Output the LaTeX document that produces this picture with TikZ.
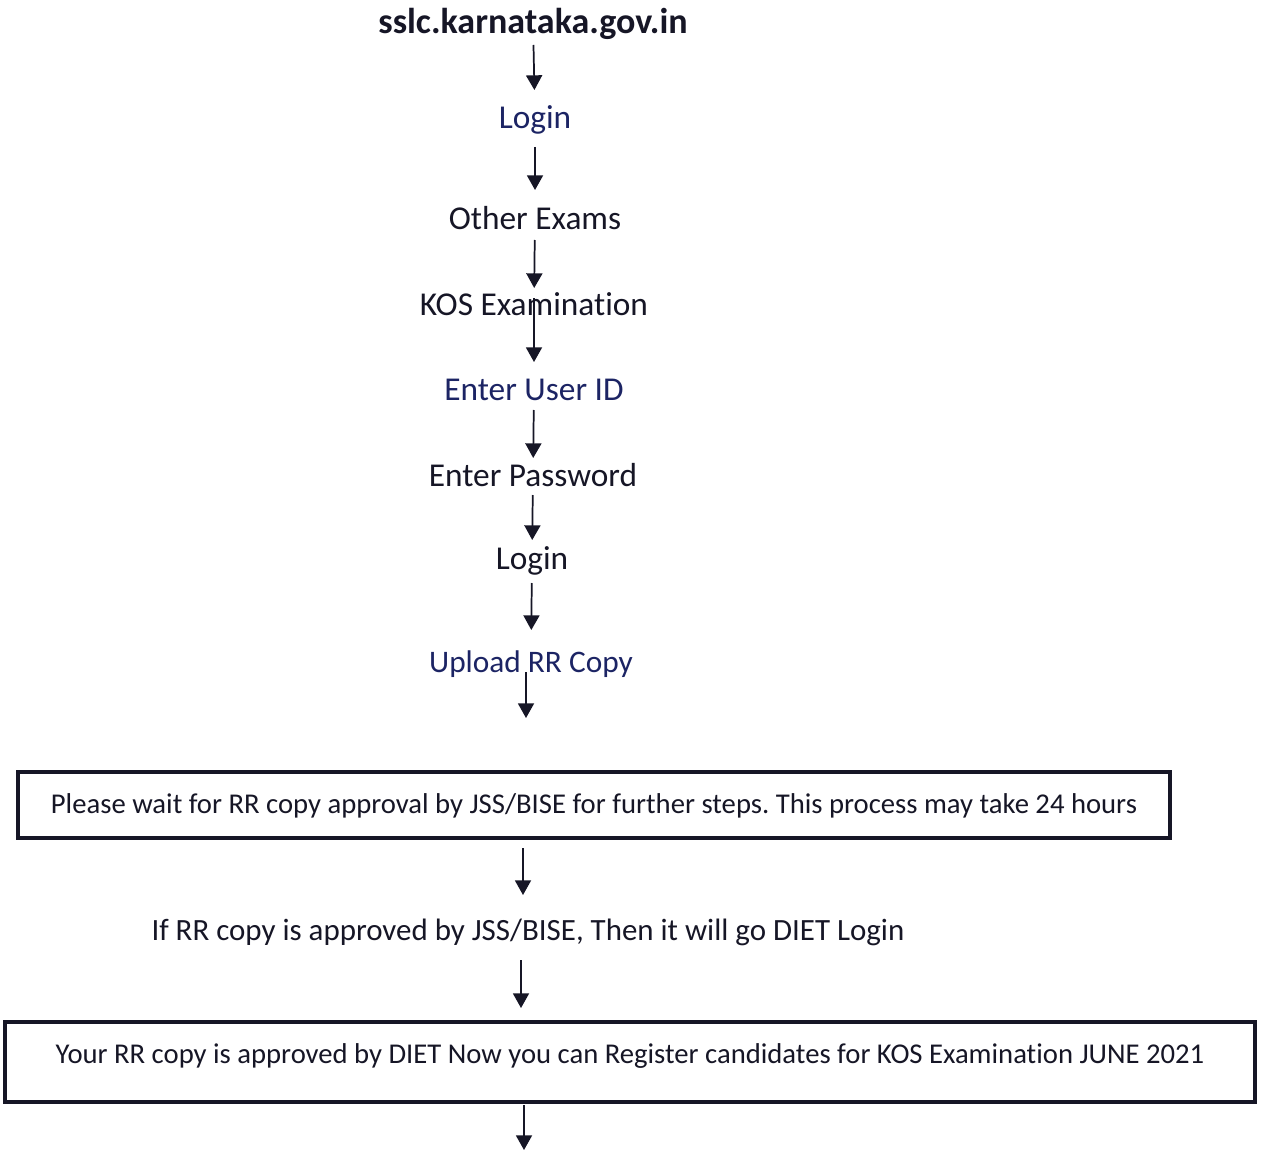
\documentclass[tikz,border=0pt]{standalone}
\usepackage{fontspec}
\setmainfont{Carlito}[Ligatures=NoCommon]
\usetikzlibrary{arrows.meta}
\frenchspacing
\definecolor{ink}{RGB}{22,22,38}
\definecolor{navy}{RGB}{28,36,100}
\tikzset{
  lbl/.style={inner sep=0pt, text height=19.3pt, text depth=2pt, text=ink, font=\fontsize{25}{30}\selectfont},
  nav/.style={lbl, text=navy},
  ttl/.style={lbl, text height=18.9pt, font=\bfseries\fontsize{27}{32}\selectfont},
  small/.style={lbl, text height=17pt, font=\fontsize{23.2}{28}\selectfont},
  boxed/.style={lbl, font=\fontsize{21.5}{26}\selectfont, draw=ink, line width=3pt},
  arr/.style={draw=ink, line width=1.3pt, -{Triangle[width=12pt,length=11pt]}}
}
\begin{document}
\begin{tikzpicture}[x=0.75pt,y=-0.75pt]
\useasboundingbox[fill=white] (0,0) rectangle (1262,1152);
\node[ttl] (site) at (533,22) {sslc.karnataka.gov.in};
\node[nav] (login1) at (535,117) {Login};
\node[lbl] (other) at (535,218) {Other Exams};
\node[lbl] (kos) at (534,304) {KOS Examination};
\node[nav] (uid) at (534,389) {Enter User ID};
\node[lbl] (pwd) at (533,475) {Enter Password};
\node[lbl] (login2) at (532,558) {Login};
\node[nav, text height=18.6pt, font=\fontsize{23.5}{28}\selectfont] (upload) at (531,661) {Upload RR Copy};
\node[boxed, text height=15pt, text depth=2pt, minimum width=864pt, minimum height=49.5pt] (wait) at (594,805)
  {Please wait for RR copy approval by JSS/BISE for further steps. This process may take 24 hours};
\node[small] (ifrr) at (528,930) {If RR copy is approved by JSS/BISE, Then it will go DIET Login};
\node[boxed, text height=7pt, text depth=5.5pt, minimum width=938pt, minimum height=60pt] (diet) at (630,1062)
  {Your RR copy is approved by DIET Now you can Register candidates for KOS Examination JUNE 2021};
\coordinate (end) at (524,1150);

\draw[arr, shorten <=23*0.75pt, shorten >=27*0.75pt] (site.center) -- (login1.center);
\draw[arr, shorten <=30*0.75pt, shorten >=28*0.75pt] (login1.center) -- (other.center);
\draw[arr, shorten <=22*0.75pt, shorten >=16*0.75pt] (other.center) -- (kos.center);
\draw[arr, shorten <=-6*0.75pt, shorten >=27*0.75pt] (kos.center) -- (uid.center);
\draw[arr, shorten <=21*0.75pt, shorten >=17*0.75pt] (uid.center) -- (pwd.center);
\draw[arr, shorten <=20*0.75pt, shorten >=18*0.75pt] (pwd.center) -- (login2.center);
\draw[arr, shorten <=25*0.75pt, shorten >=31*0.75pt] (login2.center) -- (upload.center);
\draw[arr, shorten <=11*0.75pt, shorten >=87*0.75pt] ([xshift=-3.75pt]upload.center) -- ([xshift=-3.75pt]upload.center |- wait.center);
\draw[arr, shorten <=43*0.75pt, shorten >=35*0.75pt] ([xshift=-3.75pt]ifrr.center |- wait.center) -- ([xshift=-3.75pt]ifrr.center);
\draw[arr, shorten <=30*0.75pt, shorten >=54*0.75pt] ([xshift=-5.25pt]ifrr.center) -- ([xshift=-5.25pt]ifrr.center |- diet.center);
\draw[arr, shorten <=43*0.75pt] (end |- diet.center) -- (end);
\end{tikzpicture}
\end{document}
